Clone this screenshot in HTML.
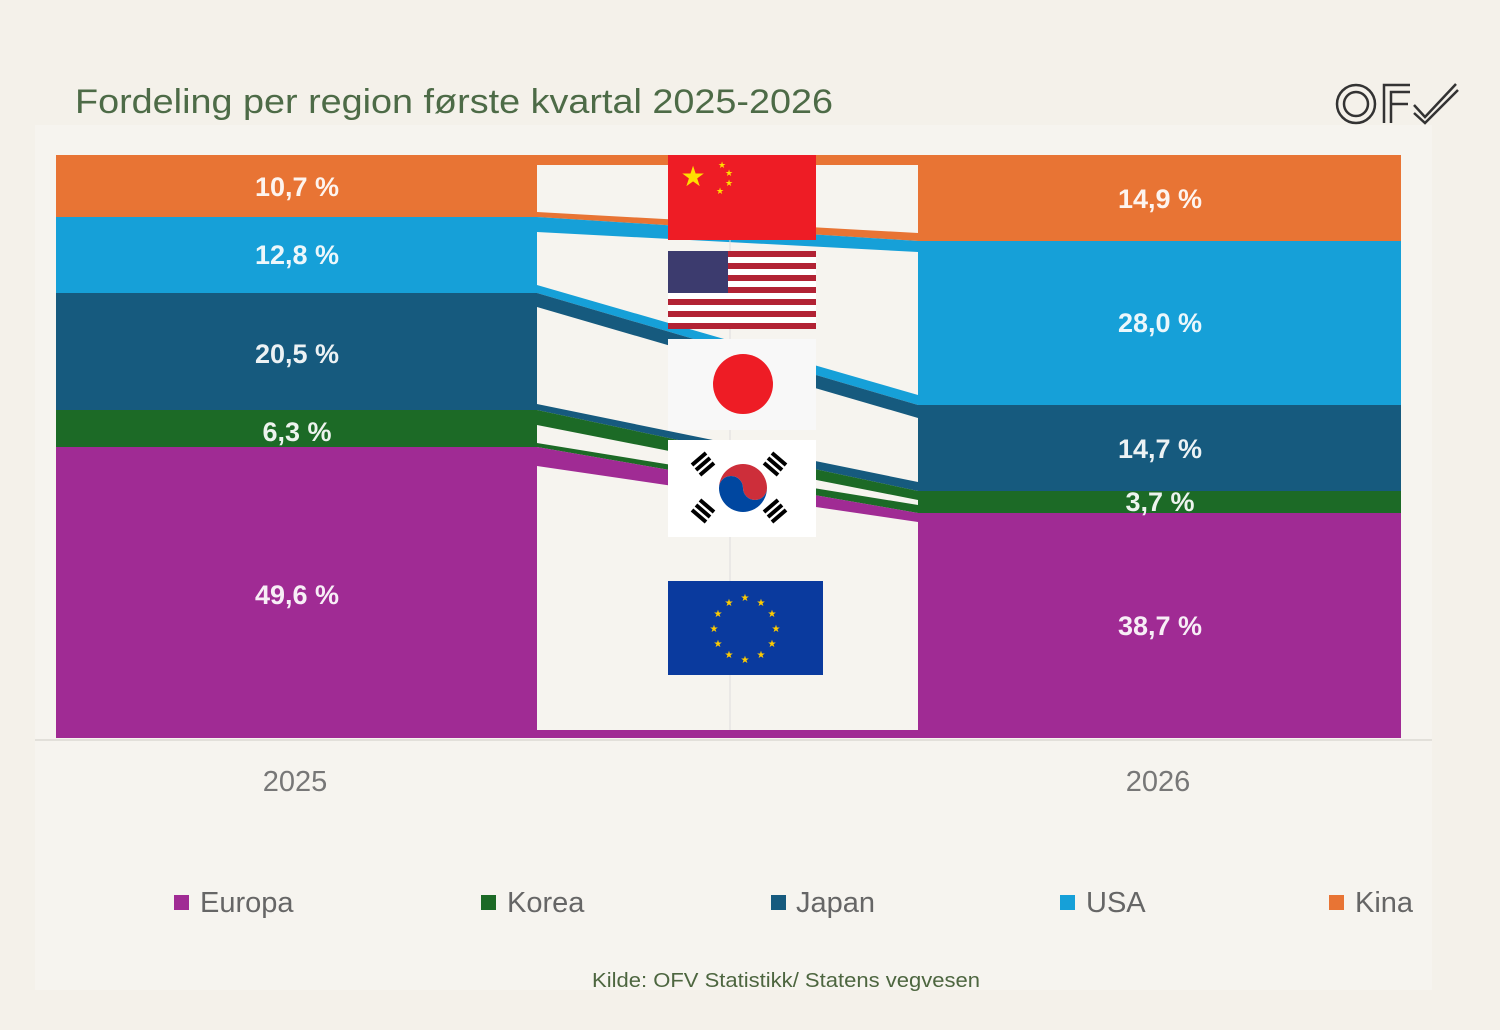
<!DOCTYPE html>
<html><head><meta charset="utf-8"><style>
body{margin:0;background:#f4f1ea;}
svg{display:block;font-family:"Liberation Sans",sans-serif;}
</style></head><body>
<svg width="1500" height="1030" viewBox="0 0 1500 1030">
<rect width="1500" height="1030" fill="#f4f1ea"/>
<rect x="35" y="125" width="1397" height="865" fill="#f6f4ef"/>
<text x="75" y="113" font-size="34" fill="#4d6b47" textLength="758" lengthAdjust="spacingAndGlyphs">Fordeling per region første kvartal 2025-2026</text>
<g fill="none" stroke="#333" stroke-width="2.5">
<circle cx="1356" cy="104" r="19"/><circle cx="1356" cy="104" r="12"/>
<path d="M1384 123V85H1410M1391 123V92H1410M1391 104H1408"/>
<path d="M1414 105L1425 117L1456 84M1414 113L1425 123L1458 90"/>
</g>
<rect x="56" y="155" width="481" height="62" fill="#e87434"/>
<rect x="56" y="217" width="481" height="76" fill="#16a0d8"/>
<rect x="56" y="293" width="481" height="117" fill="#165a7e"/>
<rect x="56" y="410" width="481" height="37" fill="#1c6a26"/>
<rect x="56" y="447" width="481" height="291" fill="#a02b94"/>
<rect x="918" y="155" width="483" height="86" fill="#e87434"/>
<rect x="918" y="241" width="483" height="164" fill="#16a0d8"/>
<rect x="918" y="405" width="483" height="86" fill="#165a7e"/>
<rect x="918" y="491" width="483" height="22" fill="#1c6a26"/>
<rect x="918" y="513" width="483" height="225" fill="#a02b94"/>
<polygon points="537,155 918,155 918,241 537,217" fill="#e87434"/>
<polygon points="537,165 918,165 918,233 537,212" fill="#f6f4ef"/>
<polygon points="537,217 918,241 918,405 537,293" fill="#16a0d8"/>
<polygon points="537,232 918,252 918,395 537,285" fill="#f6f4ef"/>
<polygon points="537,293 918,405 918,491 537,410" fill="#165a7e"/>
<polygon points="537,307 918,418 918,482 537,404" fill="#f6f4ef"/>
<polygon points="537,410 918,491 918,513 537,447" fill="#1c6a26"/>
<polygon points="537,425 918,500 918,505 537,443" fill="#f6f4ef"/>
<polygon points="537,447 918,513 918,738 537,738" fill="#a02b94"/>
<polygon points="537,466 918,522 918,730 537,730" fill="#f6f4ef"/>
<line x1="730" y1="240" x2="730" y2="730" stroke="#ddd" stroke-width="1"/>
<line x1="35" y1="740" x2="1432" y2="740" stroke="#e2e0da" stroke-width="2"/>
<rect x="668" y="155" width="148" height="85" fill="#ee1c25"/>
<text x="693" y="186" font-size="28" fill="#ffde00" text-anchor="middle">★</text>
<text x="718" y="168" font-size="9" fill="#ffde00">★</text><text x="725" y="176" font-size="9" fill="#ffde00">★</text>
<text x="725" y="186" font-size="9" fill="#ffde00">★</text><text x="716" y="194" font-size="9" fill="#ffde00">★</text>
<rect x="668" y="251" width="148" height="78" fill="#fff"/>
<g fill="#b22234"><rect x="668" y="251" width="148" height="6"/><rect x="668" y="263" width="148" height="6"/><rect x="668" y="275" width="148" height="6"/><rect x="668" y="287" width="148" height="6"/><rect x="668" y="299" width="148" height="6"/><rect x="668" y="311" width="148" height="6"/><rect x="668" y="323" width="148" height="6"/></g>
<rect x="668" y="251" width="60" height="42" fill="#3c3b6e"/>
<rect x="668" y="339" width="148" height="91" fill="#f8f8f8"/>
<circle cx="743" cy="384" r="30" fill="#ee1c25"/>
<rect x="668" y="440" width="148" height="97" fill="#fff"/>
<path d="M719,488 a24,24 0 0 1 48,0 a12,12 0 0 1 -24,0 a12,12 0 0 0 -24,0z" fill="#cd2e3a"/>
<path d="M719,488 a24,24 0 0 0 48,0 a12,12 0 0 1 -24,0 a12,12 0 0 0 -24,0z" fill="#0047a0"/>
<g stroke="#000" stroke-width="4"><path d="M692,465l14,-12M696,470l14,-12M700,475l14,-12"/><path d="M772,453l14,12M768,458l14,12M764,463l14,12"/><path d="M692,510l14,12M696,505l14,12M700,500l14,12"/><path d="M772,522l14,-12M768,517l14,-12M764,512l14,-12"/></g>
<rect x="668" y="581" width="155" height="94" fill="#0a3a9e"/>
<g fill="#ffcc00" font-size="10" text-anchor="middle">
<text x="745" y="601">★</text><text x="761" y="606">★</text><text x="772" y="617">★</text><text x="776" y="632">★</text><text x="772" y="647">★</text><text x="761" y="658">★</text><text x="745" y="663">★</text><text x="729" y="658">★</text><text x="718" y="647">★</text><text x="714" y="632">★</text><text x="718" y="617">★</text><text x="729" y="606">★</text></g>
<g fill="#fff" font-size="27" font-weight="bold" text-anchor="middle" opacity="0.92">
<text x="297" y="196">10,7 %</text><text x="297" y="264">12,8 %</text><text x="297" y="363">20,5 %</text><text x="297" y="441">6,3 %</text><text x="297" y="604">49,6 %</text>
<text x="1160" y="208">14,9 %</text><text x="1160" y="332">28,0 %</text><text x="1160" y="458">14,7 %</text><text x="1160" y="511">3,7 %</text><text x="1160" y="635">38,7 %</text></g>
<g fill="#777" font-size="29" text-anchor="middle"><text x="295" y="791">2025</text><text x="1158" y="791">2026</text></g>
<g font-size="29" fill="#666">
<rect x="174" y="895" width="15" height="15" fill="#a02b94"/><text x="200" y="912">Europa</text>
<rect x="481" y="895" width="15" height="15" fill="#1c6a26"/><text x="507" y="912">Korea</text>
<rect x="771" y="895" width="15" height="15" fill="#165a7e"/><text x="796" y="912">Japan</text>
<rect x="1060" y="895" width="15" height="15" fill="#16a0d8"/><text x="1086" y="912">USA</text>
<rect x="1329" y="895" width="15" height="15" fill="#e87434"/><text x="1355" y="912">Kina</text>
</g>
<text x="592" y="987" font-size="20" fill="#4d6640" textLength="388" lengthAdjust="spacingAndGlyphs">Kilde: OFV Statistikk/ Statens vegvesen</text>
</svg>
</body></html>
